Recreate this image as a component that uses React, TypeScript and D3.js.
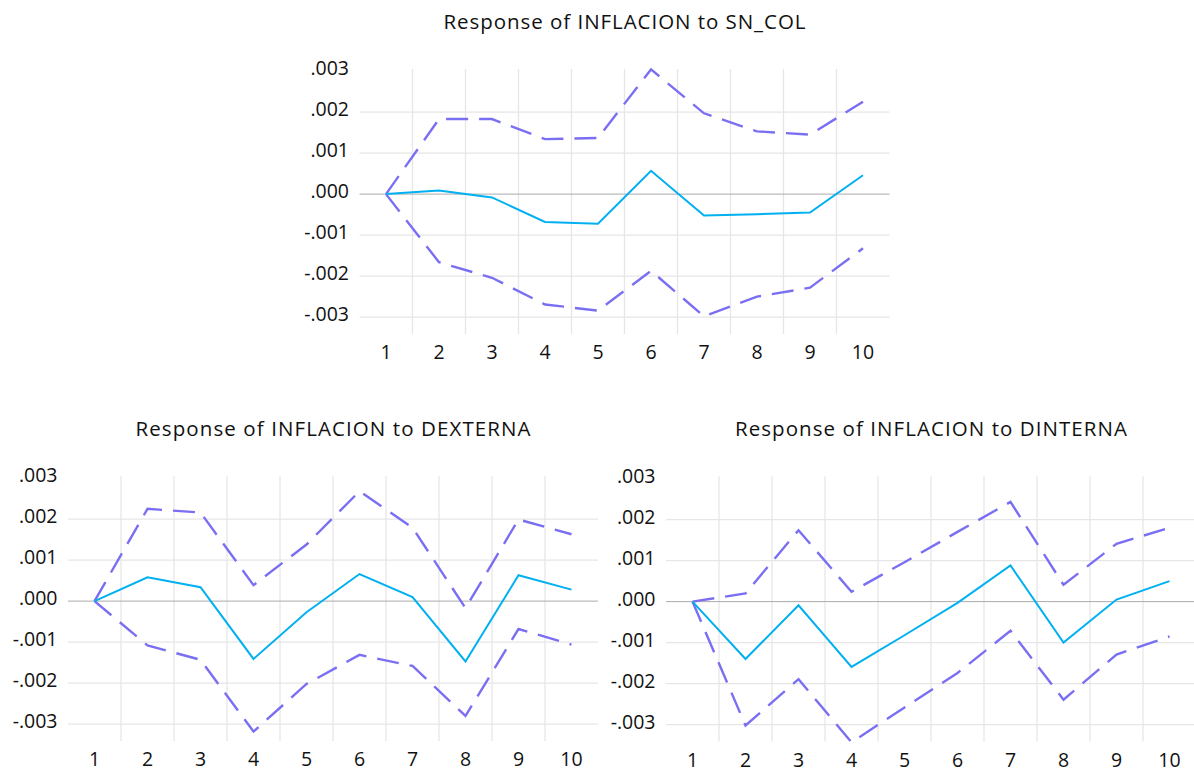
import React from "react";
import * as d3 from "d3";

const periods = ["1", "2", "3", "4", "5", "6", "7", "8", "9", "10"];
const yTicks = [0.003, 0.002, 0.001, 0, -0.001, -0.002, -0.003];
const yTickLabels = [".003", ".002", ".001", ".000", "-.001", "-.002", "-.003"];

const snColResp = [0, 0.00009, -0.00008, -0.00068, -0.00072, 0.00057, -0.00052, -0.00049, -0.00045, 0.00046];
const snColUpper = [0, 0.00183, 0.00183, 0.00134, 0.00137, 0.00304, 0.00197, 0.00153, 0.00145, 0.00225];
const snColLower = [0, -0.00166, -0.00204, -0.00269, -0.00284, -0.00187, -0.00298, -0.0025, -0.00228, -0.00132];

const dexResp = [0, 0.00058, 0.00034, -0.00141, -0.00027, 0.00066, 0.0001, -0.00147, 0.00063, 0.00028];
const dexUpper = [0, 0.00225, 0.00216, 0.00039, 0.00138, 0.00268, 0.00179, -0.00017, 0.00199, 0.00163];
const dexLower = [0, -0.00108, -0.00143, -0.00318, -0.00202, -0.00131, -0.00158, -0.0028, -0.00068, -0.00106];

const dinResp = [0, -0.0014, -0.00009, -0.00159, -0.00082, -0.00003, 0.00088, -0.001, 0.00005, 0.0005];
const dinUpper = [0, 0.0002, 0.00174, 0.00024, 0.00096, 0.0017, 0.00243, 0.00041, 0.00141, 0.0018];
const dinLower = [0, -0.00302, -0.00189, -0.00343, -0.00258, -0.00174, -0.00071, -0.00239, -0.00129, -0.00085];

const titles = [
  "Response of INFLACION to SN_COL",
  "Response of INFLACION to DEXTERNA",
  "Response of INFLACION to DINTERNA",
];

const yDomain: [number, number] = [-0.00341, 0.00305];

type PanelProps = {
  x0: number;
  y0: number;
  title: string;
  titleLen: number;
  resp: number[];
  upper: number[];
  lower: number[];
};

const FONT = "'Open Sans', sans-serif";

function Panel({ x0, y0, title, titleLen, resp, upper, lower }: PanelProps) {
  const w = 530;
  const h = 265;
  const x = d3.scaleBand<string>().domain(periods).range([x0, x0 + w]);
  const y = d3.scaleLinear().domain(yDomain).range([y0 + h, y0]);
  const cx = (p: string) => (x(p) as number) + x.bandwidth() / 2;
  const line = d3
    .line<number>()
    .x((_, i) => cx(periods[i]))
    .y((d) => y(d));
  const boundaries = periods.slice(1).map((p) => x(p) as number);
  return (
    <g>
      <text
        x={x0 + w / 2}
        y={y0 - 40.5}
        textAnchor="middle"
        fontFamily={FONT}
        fontSize={20.5}
        fill="#111"
        textLength={titleLen}
        lengthAdjust="spacing"
      >
        {title}
      </text>
      {boundaries.map((bx, i) => (
        <line key={"v" + i} x1={bx} x2={bx} y1={y0} y2={y0 + h} stroke="#e6e6e6" strokeWidth={1.3} />
      ))}
      {yTicks
        .filter((t) => t !== 0 && t < 0.0029)
        .map((t, i) => (
          <line key={"h" + i} x1={x0} x2={x0 + w} y1={y(t)} y2={y(t)} stroke="#e6e6e6" strokeWidth={1.3} />
        ))}
      <line x1={x0} x2={x0 + w} y1={y(0)} y2={y(0)} stroke="#ababab" strokeWidth={1} />
      {yTicks.map((t, i) => (
        <text
          key={"yl" + i}
          x={x0 - 10.5}
          y={y(t) + 4}
          textAnchor="end"
          fontFamily={FONT}
          fontSize={19.5}
          fill="#111"
        >
          {yTickLabels[i]}
        </text>
      ))}
      {periods.map((p) => (
        <text
          key={"xl" + p}
          x={cx(p)}
          y={y0 + h + 25}
          textAnchor="middle"
          fontFamily={FONT}
          fontSize={19.5}
          fill="#111"
        >
          {p}
        </text>
      ))}
      <path d={line(upper) || ""} fill="none" stroke="#7a6ff2" strokeWidth={2.4} strokeDasharray="22,11" />
      <path d={line(lower) || ""} fill="none" stroke="#7a6ff2" strokeWidth={2.4} strokeDasharray="22,11" />
      <path d={line(resp) || ""} fill="none" stroke="#00b0f0" strokeWidth={2} />
    </g>
  );
}

export default function App() {
  return (
    <svg
      width={1194}
      height={771}
      style={{ position: "absolute", left: 0, top: 0, background: "#fff" }}
    >
      <rect x={0} y={0} width={1194} height={771} fill="#fff" />
      <Panel x0={359.5} y0={69} title={titles[0]} titleLen={362} resp={snColResp} upper={snColUpper} lower={snColLower} />
      <Panel x0={68} y0={476} title={titles[1]} titleLen={395} resp={dexResp} upper={dexUpper} lower={dexLower} />
      <Panel x0={666} y0={476.5} title={titles[2]} titleLen={392} resp={dinResp} upper={dinUpper} lower={dinLower} />
    </svg>
  );
}
